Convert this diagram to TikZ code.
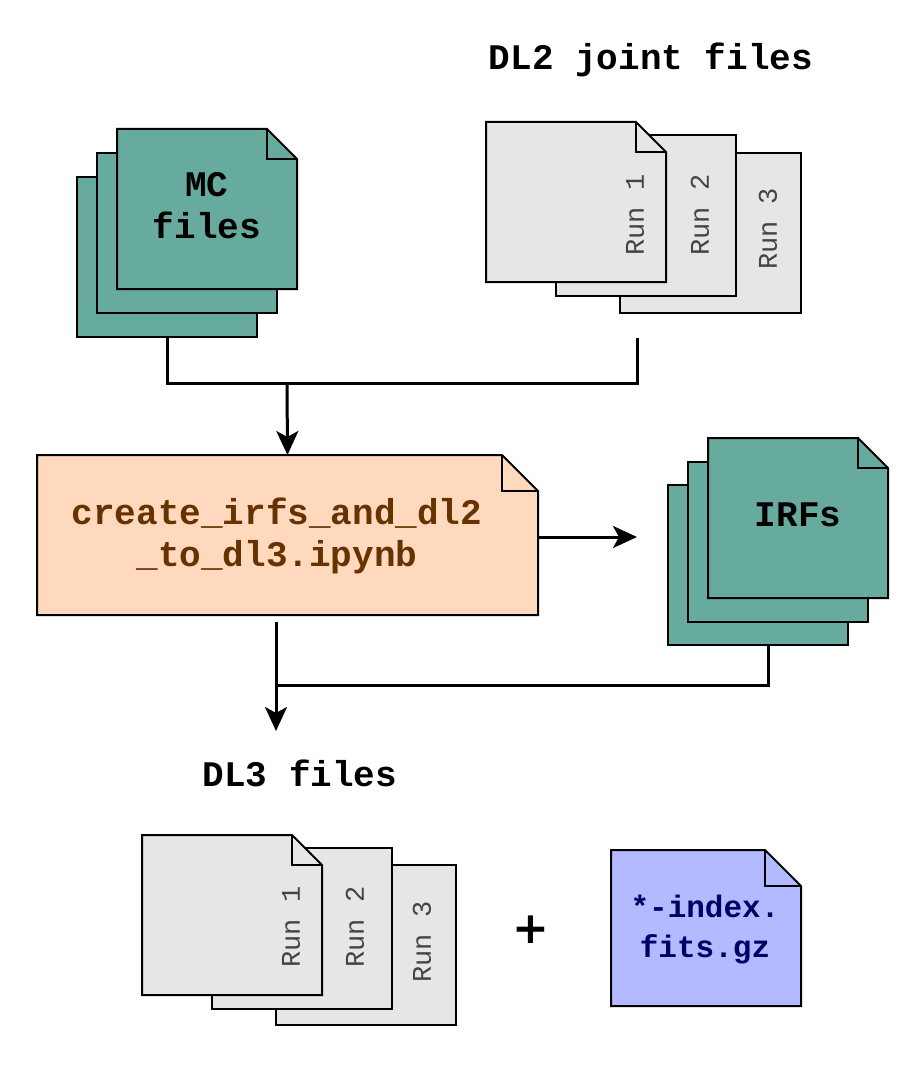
\documentclass[tikz,border=0pt]{standalone}
\usepackage{fontspec}
\setmainfont{Liberation Mono}
\newfontfamily\plusfont{DejaVu Sans}
\usetikzlibrary{arrows.meta}
\definecolor{tealf}{HTML}{67AB9F}
\definecolor{peach}{HTML}{FFD9BE}
\definecolor{brownt}{HTML}{663300}
\definecolor{lblue}{HTML}{B3BAFF}
\definecolor{navyt}{HTML}{000066}
\definecolor{gfill}{HTML}{E6E6E6}
\definecolor{runt}{HTML}{444444}
% folded-corner document: name, x, y, w, h, fold, style
\newcommand\docfile[7]{%
  \path[#7] (#2,#3) -- ({#2+#4-#6},#3) -- ({#2+#4},{#3+#6}) -- ({#2+#4},{#3+#5}) -- (#2,{#3+#5}) -- cycle;
  \draw[#7,fill=none] ({#2+#4-#6},#3) -- ({#2+#4-#6},{#3+#6}) -- ({#2+#4},{#3+#6});
  \node[inner sep=0pt,outer sep=0pt,minimum width=#4pt,minimum height=#5pt,anchor=north west] (#1) at (#2,#3) {};
}
% plain sheet: name, x, y, w, h, style
\newcommand\plainfile[6]{%
  \node[#6,rectangle,inner sep=0pt,outer sep=0pt,minimum width=#4pt,minimum height=#5pt,anchor=north west] (#1) at (#2,#3) {};
}
\begin{document}
\begin{tikzpicture}[x=1pt,y=-1pt,
  sheet/.style={draw=black,line width=2pt,line join=miter},
  tealdoc/.style={sheet,fill=tealf},
  graydoc/.style={sheet,fill=gfill},
  peachdoc/.style={sheet,fill=peach},
  bluedoc/.style={sheet,fill=lblue},
  bigtxt/.style={font=\bfseries\fontsize{36}{42}\selectfont,align=center,inner sep=0pt},
  runtxt/.style={font=\fontsize{27}{30}\selectfont,text=runt,rotate=90,inner sep=0pt},
  conn/.style={line width=3pt,line cap=butt,line join=miter},
  arr/.style={conn,-{Stealth[length=24pt,width=22pt,inset=6pt]}}
]
\useasboundingbox (0,0) rectangle (922,1067);

% MC files
\plainfile{mcA}{77}{177}{180}{160}{tealdoc}
\plainfile{mcB}{97}{153}{180}{160}{tealdoc}
\docfile{mcC}{117}{129}{180}{160}{30}{tealdoc}
\node[bigtxt] (mclbl) at (207,206) {MC\\files};

% DL2 joint files
\node[bigtxt] (dl2title) at (651,60) {DL2 joint files};
\plainfile{dlA}{620}{153}{181}{160}{graydoc}
\plainfile{dlB}{556}{135}{180}{161}{graydoc}
\docfile{dlC}{486}{122}{180}{160}{30}{graydoc}
\node[runtxt] (dlr1) at (635,215) {Run 1};
\node[runtxt] (dlr2) at (700,215) {Run 2};
\node[runtxt] (dlr3) at (768,229) {Run 3};

% main notebook
\docfile{main}{37}{455}{501}{160}{36}{peachdoc}
\node[bigtxt,text=brownt,font=\bfseries\fontsize{36}{42}\selectfont] (mainlbl) at (277,536) {create\_irfs\_and\_dl2\\\_to\_dl3.ipynb};

% IRFs
\plainfile{irA}{668}{485}{180}{160}{tealdoc}
\plainfile{irB}{688}{462}{180}{160}{tealdoc}
\docfile{irC}{708}{438}{180}{160}{30}{tealdoc}
\node[bigtxt] (irlbl) at (798,515) {IRFs};

% DL3 files
\node[bigtxt] (dl3title) at (300,773) {DL3 files};
\plainfile{d3A}{276}{865}{180}{160}{graydoc}
\plainfile{d3B}{212}{848}{180}{161}{graydoc}
\docfile{d3C}{142}{835}{180}{160}{30}{graydoc}
\node[runtxt] (d3r1) at (291,927) {Run 1};
\node[runtxt] (d3r2) at (355,927) {Run 2};
\node[runtxt] (d3r3) at (422,942) {Run 3};

\node[font=\plusfont\bfseries\fontsize{44}{44}\selectfont,inner sep=0pt] (plus) at (531,930) {+};

% index file
\docfile{idx}{611}{850}{190}{156}{36}{bluedoc}
\node[bigtxt,text=navyt,font=\bfseries\fontsize{31}{40}\selectfont] (idxlbl) at (705,930) {*-index.\\fits.gz};

% connectors
\coordinate (dlout) at (637,338);
\coordinate (jn) at (287,383);
\draw[conn] (mcA.south) |- (jn) -| (dlout);
\draw[arr] (jn) -- (main.north);
\coordinate (irin) at (637,537);
\draw[arr] (main.east |- irin) -- (irin);
\coordinate (irout) at (768,645);
\coordinate (mainout) at (276,622);
\coordinate (d3in) at (276,731);
\draw[conn] (irout) |- (mainout |- 0,685);
\draw[arr] (mainout) -- (d3in);
\end{tikzpicture}
\end{document}
